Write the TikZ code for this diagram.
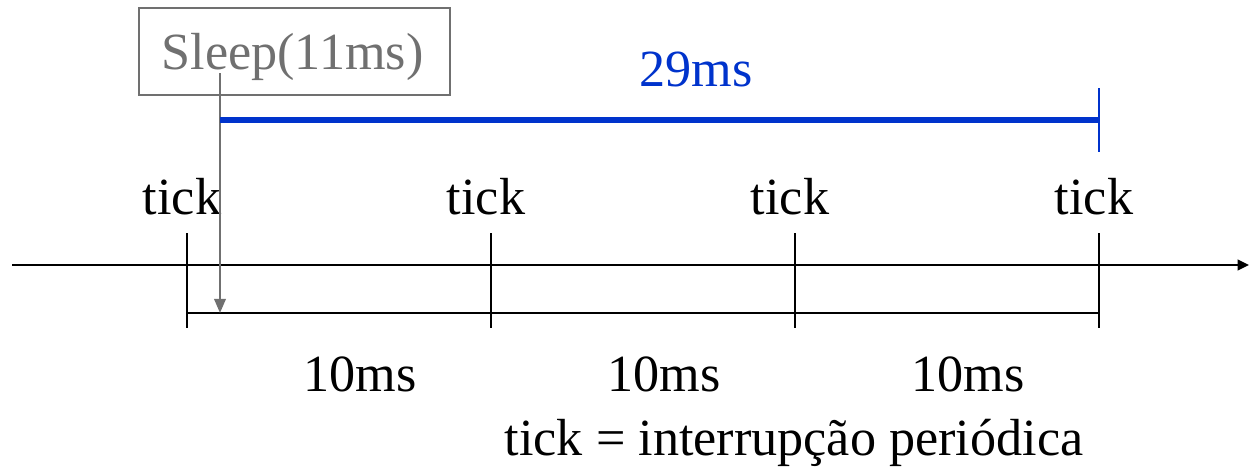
\documentclass[tikz,border=0pt]{standalone}
\usepackage{fontspec}
\setmainfont{Liberation Serif}
\usetikzlibrary{arrows.meta}
\definecolor{sleepgray}{RGB}{112,112,112}
\definecolor{spanblue}{RGB}{0,51,204}

\begin{document}
\begin{tikzpicture}[x=0.02cm, y=-0.02cm,
    lbl/.style={font=\fontsize{29.7}{32}\selectfont, inner sep=0pt},
    tk/.style={line width=1.35pt}]
\useasboundingbox (0,0) rectangle (1249,470);

% Time axis
\coordinate (axstart) at (12,265);
\coordinate (axend) at (1249,265);
\draw[tk, -{Triangle[length=6.5pt,width=6pt]}] (axstart) -- (axend);

% Ticks
\foreach \x/\n in {187/1,491/2,795/3,1099/4} {
    \coordinate (top\n) at (\x,233);
    \coordinate (bot\n) at (\x,328);
    \coordinate (mid\n) at (\x,313);
    \draw[tk] (top\n) -- (bot\n);
    \node[lbl, anchor=base] (tick\n) at (\x-5,214) {tick};
}
\draw[tk] (mid1) -- (mid4);

% Intervals
\foreach \x/\n in {360/1,664/2,968/3} {
    \node[lbl, anchor=base] (ten\n) at (\x,391) {10ms};
}
\node[lbl, anchor=base] (legend) at (794,455) {tick = interrupção periódica};

% Sleep call
\node[draw=sleepgray, line width=1.3pt, minimum width=6.22cm, minimum height=1.74cm,
      inner sep=0pt] (sleepbox) at (294.5,51.5) {};
\node[lbl, anchor=base, text=sleepgray] (sleeptxt) at (292.5,70) {Sleep(11ms)};
\coordinate (sleeppt) at (220,73);
\coordinate (wake) at (220,313);
\draw[sleepgray, line width=1.3pt, -{Triangle[length=8pt,width=6.5pt]}] (sleeppt) -- (wake);

% Span until wake-up
\coordinate (spanstart) at (220,120);
\coordinate (spanend) at (1099,120);
\coordinate (endtop) at (1099,88);
\coordinate (endbot) at (1099,152);
\draw[spanblue, line width=3.9pt] (spanstart) -- (spanend);
\draw[spanblue, line width=1.3pt] (endtop) -- (endbot);
\node[lbl, anchor=base, text=spanblue] (span) at (696,86) {29ms};
\end{tikzpicture}
\end{document}
